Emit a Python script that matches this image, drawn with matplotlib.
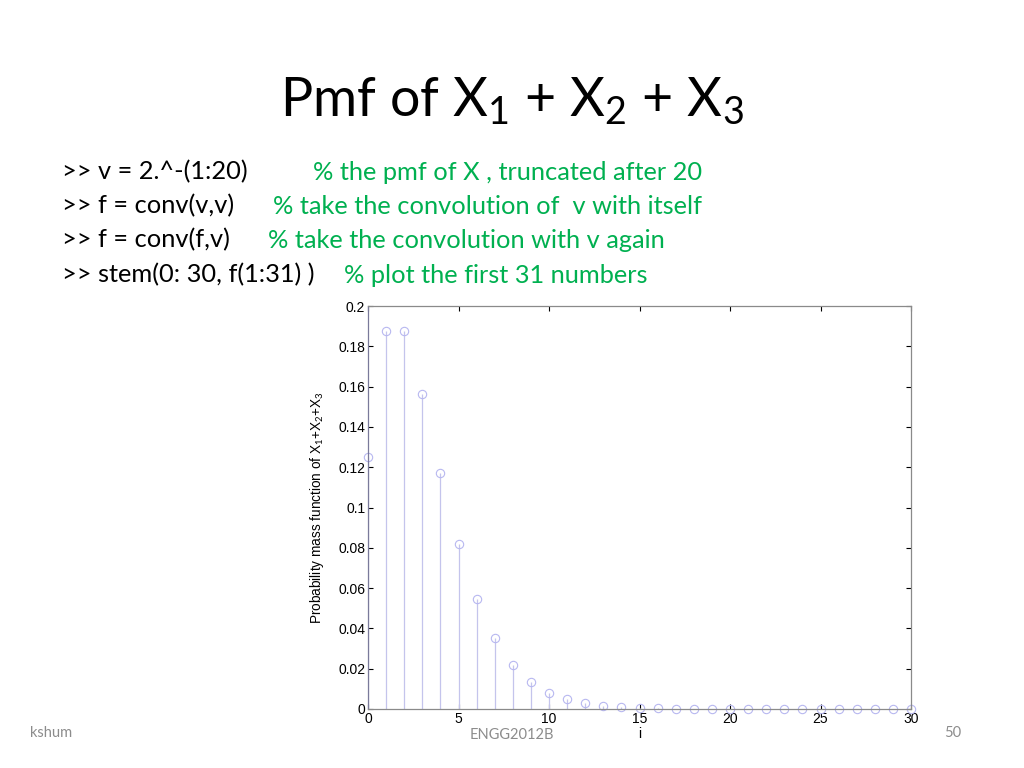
import matplotlib
matplotlib.use("Agg")
import matplotlib.pyplot as plt

plt.rcParams['mathtext.fontset'] = 'custom'
plt.rcParams['mathtext.rm'] = 'Lato'
plt.rcParams['mathtext.it'] = 'Lato'

i_values = list(range(0, 31))
pmf = [0.125, 0.1875, 0.1875, 0.15625, 0.1171875, 0.08203125, 0.0546875,
       0.03515625, 0.02197, 0.01343, 0.008057, 0.004761, 0.002777, 0.001602,
       0.000916, 0.000519, 0.000292, 0.000163, 0.0000906, 0.0000501,
       0.0000275, 0.0000150, 0.0000081, 0.0000044, 0.0000023, 0.0000012,
       0.0000006, 0.0000003, 0.0000002, 0.0000001, 0.0000000]
xticks = [0, 5, 10, 15, 20, 25, 30]
yticks = [0, 0.02, 0.04, 0.06, 0.08, 0.1, 0.12, 0.14, 0.16, 0.18, 0.2]
ytick_labels = ["0", "0.02", "0.04", "0.06", "0.08", "0.1", "0.12", "0.14", "0.16", "0.18", "0.2"]

code_lines = [">> v = 2.^-(1:20)", ">> f = conv(v,v)", ">> f = conv(f,v)", ">> stem(0: 30, f(1:31) )"]
comments = ["% the pmf of X , truncated after 20", "% take the convolution of  v with itself",
            "% take the convolution with v again", "% plot the first 31 numbers"]

fig = plt.figure(figsize=(10.24, 7.68), dpi=100)
fig.patch.set_facecolor("white")

# Title
fig.text(0.5, 1 - 101 / 768, r"Pmf of X$_1$ + X$_2$ + X$_3$", ha="center", va="center",
         fontsize=38.7, family="Lato", color="black")

code_y = [172, 206, 240, 275]
comment_x = [313, 273, 268, 344]
for line, com, y, cx in zip(code_lines, comments, code_y, comment_x):
    fig.text(62 / 1024, 1 - y / 768, line, ha="left", va="center", fontsize=18.3,
             family="Lato", color="black")
    fig.text(cx / 1024, 1 - y / 768, com, ha="left", va="center", fontsize=18.3,
             family="Lato", color="#00B050")

# footer
fig.text(30 / 1024, 1 - 733 / 768, "kshum", ha="left", va="center", fontsize=10.5,
         family="Lato", color="#8c8c8c")
fig.text(512 / 1024, 1 - 735 / 768, "ENGG2012B", ha="center", va="center", fontsize=10.5,
         family="Lato", color="#8c8c8c")
fig.text(953 / 1024, 1 - 733 / 768, "50", ha="center", va="center", fontsize=10.5,
         family="Lato", color="#8c8c8c")

ax = fig.add_axes([368 / 1024, 1 - 709 / 768, (911 - 368) / 1024, (709 - 306) / 768])
ml, sl, bl = ax.stem(i_values, pmf, basefmt=" ")
plt.setp(sl, color="#c4c4ec", linewidth=0.9)
plt.setp(ml, marker="o", markersize=6, markerfacecolor="none",
         markeredgecolor="#b8b8f0", markeredgewidth=0.8)
ml.set_clip_on(False)

ax.set_xlim(0, 30)
ax.set_ylim(0, 0.2)
ax.set_xticks(xticks)
ax.set_xticklabels([str(t) for t in xticks], family="Liberation Sans", fontsize=10)
ax.set_yticks(yticks)
ax.set_yticklabels(ytick_labels, family="Liberation Sans", fontsize=10)
ax.tick_params(direction="in", length=3.5, width=0.8, top=True, right=True, pad=2, colors="black")
for s in ax.spines.values():
    s.set_color("#8a8a8a")
    s.set_linewidth(0.9)
ax.spines["left"].set_color("#7a7a9a")
ax.set_xlabel("i", family="Liberation Sans", fontsize=10, labelpad=1)
ax.set_ylabel(r"Probability mass function of X$_1$+X$_2$+X$_3$", family="Liberation Sans",
              fontsize=9.8, labelpad=9)

fig.savefig("out.png", dpi=100, facecolor="white")
